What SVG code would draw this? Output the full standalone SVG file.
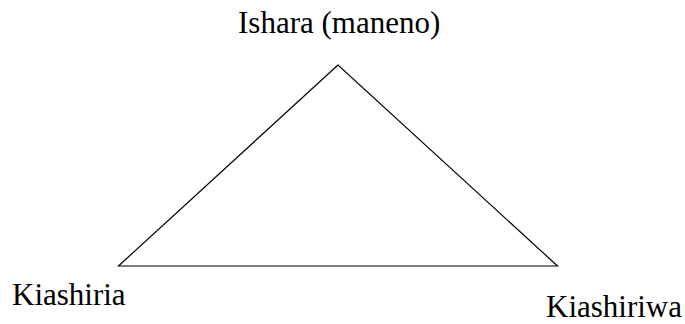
<svg xmlns="http://www.w3.org/2000/svg" width="685" height="324" viewBox="0 0 685 324">
<style>
text{font-family:"Liberation Serif","Times New Roman",serif;font-size:31px;fill:#000}
.edge{stroke:#000;stroke-width:1.2;fill:none}
</style>
<rect width="685" height="324" fill="#fff"/>
<g id="connectors">
<polygon class="edge" points="338,65 118.5,266 557.5,266"/>
</g>
<g id="ishara"><text x="238" y="33">Ishara (maneno)</text></g>
<g id="kiashiria"><text x="12" y="305">Kiashiria</text></g>
<g id="kiashiriwa"><text x="546" y="317">Kiashiriwa</text></g>
</svg>
